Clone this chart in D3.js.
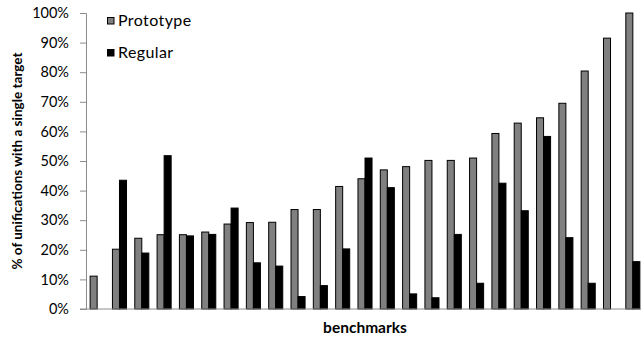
<!DOCTYPE html>
<html lang="en">
<head>
<meta charset="utf-8">
<script src="https://d3js.org/d3.v7.min.js"></script>
<style>
  body { margin: 0; background: #fff; }
  svg text { font-family: Lato, "Open Sans", sans-serif; fill: #000; }
</style>
</head>
<body>
<div id="chart"></div>
<script>
  // chart data
  var benchmarks = d3.range(1, 26).map(function(i) { return "b" + i; });
  var prototype = [11.1, 20.2, 23.9, 25.1, 25.1, 26.0, 28.7, 29.2, 29.3, 33.6, 33.6, 41.4, 44.0,
                   47.0, 48.1, 50.2, 50.2, 51.0, 59.3, 62.8, 64.6, 69.5, 80.4, 91.5, 100];
  var regular = [0, 43.5, 18.9, 51.8, 24.7, 25.2, 34.1, 15.6, 14.5, 4.2, 7.9, 20.3, 51.0,
                 41.0, 5.1, 3.8, 25.2, 8.7, 42.5, 33.2, 58.3, 24.1, 8.7, 0, 16.0];
  var series = ["Prototype", "Regular"];
  var colors = ["#808080", "#000000"];
  var yTicks = [0, 10, 20, 30, 40, 50, 60, 70, 80, 90, 100];

  // plot setup (note: "top" is reserved on window, so use other names)
  var width = 641, height = 341;
  var plotLeft = 86, plotTop = 13, plotBottom = 309, plotRight = 644;

  var svg = d3.select("#chart").append("svg")
      .attr("width", width)
      .attr("height", height);

  var x = d3.scaleBand()
      .domain(benchmarks)
      .range([plotLeft, plotRight])
      .paddingInner(0.37)
      .paddingOuter(0.185);

  var xSub = d3.scaleBand()
      .domain(series)
      .range([0, x.bandwidth()]);

  var y = d3.scaleLinear()
      .domain([0, 100])
      .range([plotBottom, plotTop]);

  // y axis
  var yAxis = d3.axisLeft(y)
      .tickValues(yTicks)
      .tickSize(6)
      .tickPadding(11)
      .tickFormat(function(d) { return d + "%"; });

  var gy = svg.append("g")
      .attr("transform", "translate(" + plotLeft + ",0)")
      .call(yAxis);
  gy.select(".domain").attr("stroke", "#8c8c8c");
  gy.selectAll(".tick line").attr("stroke", "#8c8c8c");
  gy.selectAll(".tick text")
      .style("font-size", "14.5px")
      .style("font-family", "Lato, sans-serif")
      .attr("fill", "#000");

  // bars
  var groups = svg.append("g").selectAll("g")
      .data(benchmarks)
      .enter().append("g")
      .attr("transform", function(d) { return "translate(" + x(d) + ",0)"; });

  groups.selectAll("rect")
      .data(function(d, i) {
        return [{s: "Prototype", v: prototype[i], c: colors[0]},
                {s: "Regular", v: regular[i], c: colors[1]}].filter(function(e) { return e.v > 0; });
      })
      .enter().append("rect")
      .attr("x", function(d) { return xSub(d.s); })
      .attr("y", function(d) { return y(d.v); })
      .attr("width", xSub.bandwidth())
      .attr("height", function(d) { return y(0) - y(d.v); })
      .attr("fill", function(d) { return d.c; })
      .attr("stroke", "#000")
      .attr("stroke-width", 1);

  // x axis baseline
  svg.append("line")
      .attr("x1", plotLeft - 6)
      .attr("x2", width)
      .attr("y1", y(0))
      .attr("y2", y(0))
      .attr("stroke", "#8c8c8c");

  // axis titles
  svg.append("text")
      .attr("transform", "translate(22," + ((plotTop + plotBottom) / 2) + ") rotate(-90)")
      .attr("text-anchor", "middle")
      .style("font-size", "13.5px")
      .style("font-weight", "bold")
      .text("% of unifications with a single target");

  svg.append("text")
      .attr("x", 365)
      .attr("y", 333)
      .attr("text-anchor", "middle")
      .style("font-size", "15.5px")
      .style("font-weight", "bold")
      .text("benchmarks");

  // legend
  var legend = svg.append("g").selectAll("g")
      .data(series)
      .enter().append("g")
      .attr("transform", function(d, i) { return "translate(107.5," + (17.5 + i * 32) + ")"; });

  legend.append("rect")
      .attr("width", 6.5)
      .attr("height", 6.5)
      .attr("fill", function(d, i) { return colors[i]; })
      .attr("stroke", "#000");

  legend.append("text")
      .attr("x", 10.5)
      .attr("y", 8)
      .style("font-size", "16px")
      .style("letter-spacing", "0.4px")
      .text(function(d) { return d; });
</script>
</body>
</html>
